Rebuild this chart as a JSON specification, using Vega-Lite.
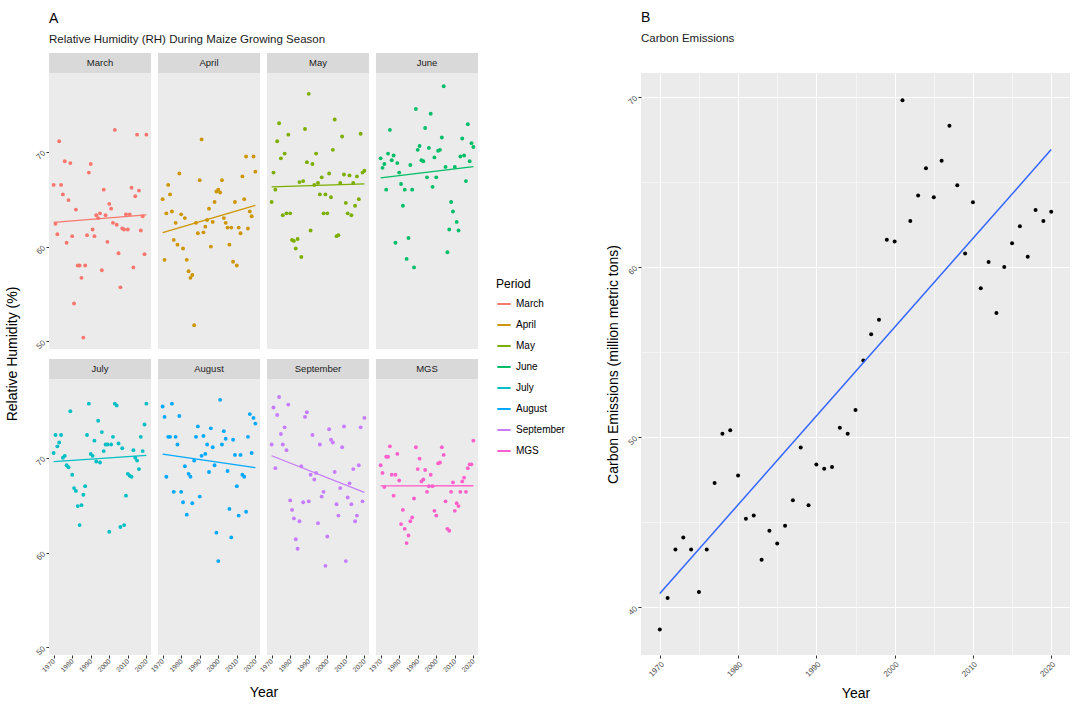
{
"$schema": "https://vega.github.io/schema/vega-lite/v6.json",
"background": "white",
"padding": {"left": 5, "top": 10, "right": 5, "bottom": 3},
"config": {
  "font": "Liberation Sans",
  "view": {"fill": "#EBEBEB", "stroke": null},
  "axis": {"domain": false, "gridColor": "#FFFFFF", "tickColor": "#333333", "tickSize": 3, "labelColor": "#4D4D4D", "labelFontSize": 8, "titleFontWeight": "normal", "titleFontSize": 14, "titleColor": "#000000", "labelOverlap": false},
  "title": {"fontSize": 14, "fontWeight": "normal", "anchor": "start", "color": "#000000", "subtitleFontSize": 11.5, "subtitleColor": "#1A1A1A", "subtitlePadding": 8, "frame": "group"},
  "legend": {"titleFontWeight": "normal", "titleFontSize": 12, "labelFontSize": 10, "titleColor": "#000000", "labelColor": "#000000"},
  "header": {"titleFontWeight": "normal", "titleFontSize": 14, "titleColor": "#000000"}
},
"datasets": {
"rh": [
{"Period":"March","Year":1970,"RH":66.5},{"Period":"March","Year":1971,"RH":62.4},{"Period":"March","Year":1972,"RH":61.3},{"Period":"March","Year":1973,"RH":71.1},{"Period":"March","Year":1974,"RH":66.5},{"Period":"March","Year":1975,"RH":65.5},{"Period":"March","Year":1976,"RH":69.0},{"Period":"March","Year":1977,"RH":60.4},{"Period":"March","Year":1978,"RH":64.9},{"Period":"March","Year":1979,"RH":68.8},{"Period":"March","Year":1980,"RH":61.1},{"Period":"March","Year":1981,"RH":54.0},{"Period":"March","Year":1982,"RH":63.9},{"Period":"March","Year":1983,"RH":58.0},{"Period":"March","Year":1984,"RH":58.0},{"Period":"March","Year":1985,"RH":56.7},{"Period":"March","Year":1986,"RH":50.4},{"Period":"March","Year":1987,"RH":58.0},{"Period":"March","Year":1988,"RH":61.2},{"Period":"March","Year":1989,"RH":67.8},{"Period":"March","Year":1990,"RH":68.7},{"Period":"March","Year":1991,"RH":61.8},{"Period":"March","Year":1992,"RH":61.1},{"Period":"March","Year":1993,"RH":63.3},{"Period":"March","Year":1994,"RH":63.0},{"Period":"March","Year":1995,"RH":63.5},{"Period":"March","Year":1996,"RH":57.5},{"Period":"March","Year":1997,"RH":66.0},{"Period":"March","Year":1998,"RH":63.3},{"Period":"March","Year":1999,"RH":60.5},{"Period":"March","Year":2000,"RH":64.5},{"Period":"March","Year":2001,"RH":64.0},{"Period":"March","Year":2002,"RH":62.5},{"Period":"March","Year":2003,"RH":72.3},{"Period":"March","Year":2004,"RH":62.3},{"Period":"March","Year":2005,"RH":59.3},{"Period":"March","Year":2006,"RH":55.7},{"Period":"March","Year":2007,"RH":61.9},{"Period":"March","Year":2008,"RH":61.8},{"Period":"March","Year":2009,"RH":63.4},{"Period":"March","Year":2010,"RH":61.8},{"Period":"March","Year":2011,"RH":63.4},{"Period":"March","Year":2012,"RH":66.2},{"Period":"March","Year":2013,"RH":57.8},{"Period":"March","Year":2014,"RH":65.3},{"Period":"March","Year":2015,"RH":71.8},{"Period":"March","Year":2016,"RH":65.9},{"Period":"March","Year":2017,"RH":61.7},{"Period":"March","Year":2018,"RH":63.2},{"Period":"March","Year":2019,"RH":59.2},{"Period":"March","Year":2020,"RH":71.8},
{"Period":"April","Year":1970,"RH":65.0},{"Period":"April","Year":1971,"RH":58.6},{"Period":"April","Year":1972,"RH":63.5},{"Period":"April","Year":1973,"RH":66.5},{"Period":"April","Year":1974,"RH":65.5},{"Period":"April","Year":1975,"RH":63.7},{"Period":"April","Year":1976,"RH":60.7},{"Period":"April","Year":1977,"RH":62.5},{"Period":"April","Year":1978,"RH":60.2},{"Period":"April","Year":1979,"RH":67.7},{"Period":"April","Year":1980,"RH":63.4},{"Period":"April","Year":1981,"RH":59.8},{"Period":"April","Year":1982,"RH":63.0},{"Period":"April","Year":1983,"RH":58.6},{"Period":"April","Year":1984,"RH":57.4},{"Period":"April","Year":1985,"RH":56.7},{"Period":"April","Year":1986,"RH":57.0},{"Period":"April","Year":1987,"RH":51.7},{"Period":"April","Year":1988,"RH":62.5},{"Period":"April","Year":1989,"RH":61.4},{"Period":"April","Year":1990,"RH":67.0},{"Period":"April","Year":1991,"RH":71.3},{"Period":"April","Year":1992,"RH":61.5},{"Period":"April","Year":1993,"RH":62.1},{"Period":"April","Year":1994,"RH":62.8},{"Period":"April","Year":1995,"RH":64.0},{"Period":"April","Year":1996,"RH":60.0},{"Period":"April","Year":1997,"RH":62.6},{"Period":"April","Year":1998,"RH":64.7},{"Period":"April","Year":1999,"RH":65.8},{"Period":"April","Year":2000,"RH":66.0},{"Period":"April","Year":2001,"RH":65.7},{"Period":"April","Year":2002,"RH":67.0},{"Period":"April","Year":2003,"RH":63.0},{"Period":"April","Year":2004,"RH":62.5},{"Period":"April","Year":2005,"RH":62.0},{"Period":"April","Year":2006,"RH":60.2},{"Period":"April","Year":2007,"RH":62.0},{"Period":"April","Year":2008,"RH":58.4},{"Period":"April","Year":2009,"RH":64.7},{"Period":"April","Year":2010,"RH":58.0},{"Period":"April","Year":2011,"RH":62.0},{"Period":"April","Year":2012,"RH":61.4},{"Period":"April","Year":2013,"RH":67.4},{"Period":"April","Year":2014,"RH":65.0},{"Period":"April","Year":2015,"RH":69.5},{"Period":"April","Year":2016,"RH":61.9},{"Period":"April","Year":2017,"RH":63.7},{"Period":"April","Year":2018,"RH":63.2},{"Period":"April","Year":2019,"RH":69.5},{"Period":"April","Year":2020,"RH":67.9},
{"Period":"May","Year":1970,"RH":64.7},{"Period":"May","Year":1971,"RH":67.8},{"Period":"May","Year":1972,"RH":66.0},{"Period":"May","Year":1973,"RH":71.1},{"Period":"May","Year":1974,"RH":73.0},{"Period":"May","Year":1975,"RH":69.3},{"Period":"May","Year":1976,"RH":63.3},{"Period":"May","Year":1977,"RH":69.8},{"Period":"May","Year":1978,"RH":63.5},{"Period":"May","Year":1979,"RH":71.8},{"Period":"May","Year":1980,"RH":63.5},{"Period":"May","Year":1981,"RH":60.7},{"Period":"May","Year":1982,"RH":60.6},{"Period":"May","Year":1983,"RH":59.8},{"Period":"May","Year":1984,"RH":60.8},{"Period":"May","Year":1985,"RH":66.8},{"Period":"May","Year":1986,"RH":58.9},{"Period":"May","Year":1987,"RH":66.9},{"Period":"May","Year":1988,"RH":72.4},{"Period":"May","Year":1989,"RH":68.9},{"Period":"May","Year":1990,"RH":76.1},{"Period":"May","Year":1991,"RH":61.7},{"Period":"May","Year":1992,"RH":68.7},{"Period":"May","Year":1993,"RH":66.5},{"Period":"May","Year":1994,"RH":69.8},{"Period":"May","Year":1995,"RH":66.7},{"Period":"May","Year":1996,"RH":65.5},{"Period":"May","Year":1997,"RH":67.3},{"Period":"May","Year":1998,"RH":63.5},{"Period":"May","Year":1999,"RH":65.5},{"Period":"May","Year":2000,"RH":63.5},{"Period":"May","Year":2001,"RH":67.7},{"Period":"May","Year":2002,"RH":65.2},{"Period":"May","Year":2003,"RH":70.2},{"Period":"May","Year":2004,"RH":73.4},{"Period":"May","Year":2005,"RH":61.1},{"Period":"May","Year":2006,"RH":61.2},{"Period":"May","Year":2007,"RH":66.7},{"Period":"May","Year":2008,"RH":71.6},{"Period":"May","Year":2009,"RH":67.6},{"Period":"May","Year":2010,"RH":64.6},{"Period":"May","Year":2011,"RH":63.5},{"Period":"May","Year":2012,"RH":67.5},{"Period":"May","Year":2013,"RH":63.3},{"Period":"May","Year":2014,"RH":66.7},{"Period":"May","Year":2015,"RH":64.3},{"Period":"May","Year":2016,"RH":67.4},{"Period":"May","Year":2017,"RH":65.0},{"Period":"May","Year":2018,"RH":71.9},{"Period":"May","Year":2019,"RH":67.8},{"Period":"May","Year":2020,"RH":68.0},
{"Period":"June","Year":1970,"RH":69.3},{"Period":"June","Year":1971,"RH":68.3},{"Period":"June","Year":1972,"RH":68.7},{"Period":"June","Year":1973,"RH":66.0},{"Period":"June","Year":1974,"RH":69.8},{"Period":"June","Year":1975,"RH":72.3},{"Period":"June","Year":1976,"RH":69.1},{"Period":"June","Year":1977,"RH":69.6},{"Period":"June","Year":1978,"RH":60.4},{"Period":"June","Year":1979,"RH":68.8},{"Period":"June","Year":1980,"RH":67.8},{"Period":"June","Year":1981,"RH":66.6},{"Period":"June","Year":1982,"RH":64.3},{"Period":"June","Year":1983,"RH":66.0},{"Period":"June","Year":1984,"RH":58.7},{"Period":"June","Year":1985,"RH":60.9},{"Period":"June","Year":1986,"RH":68.6},{"Period":"June","Year":1987,"RH":66.0},{"Period":"June","Year":1988,"RH":57.8},{"Period":"June","Year":1989,"RH":74.5},{"Period":"June","Year":1990,"RH":70.2},{"Period":"June","Year":1991,"RH":70.6},{"Period":"June","Year":1992,"RH":69.1},{"Period":"June","Year":1993,"RH":69.0},{"Period":"June","Year":1994,"RH":72.5},{"Period":"June","Year":1995,"RH":67.3},{"Period":"June","Year":1996,"RH":70.4},{"Period":"June","Year":1997,"RH":74.0},{"Period":"June","Year":1998,"RH":66.3},{"Period":"June","Year":1999,"RH":69.4},{"Period":"June","Year":2000,"RH":67.3},{"Period":"June","Year":2001,"RH":70.1},{"Period":"June","Year":2002,"RH":70.2},{"Period":"June","Year":2003,"RH":71.5},{"Period":"June","Year":2004,"RH":76.9},{"Period":"June","Year":2005,"RH":68.4},{"Period":"June","Year":2006,"RH":59.4},{"Period":"June","Year":2007,"RH":61.8},{"Period":"June","Year":2008,"RH":64.7},{"Period":"June","Year":2009,"RH":63.7},{"Period":"June","Year":2010,"RH":68.4},{"Period":"June","Year":2011,"RH":62.6},{"Period":"June","Year":2012,"RH":61.7},{"Period":"June","Year":2013,"RH":69.5},{"Period":"June","Year":2014,"RH":71.4},{"Period":"June","Year":2015,"RH":69.6},{"Period":"June","Year":2016,"RH":66.9},{"Period":"June","Year":2017,"RH":72.9},{"Period":"June","Year":2018,"RH":69.0},{"Period":"June","Year":2019,"RH":70.9},{"Period":"June","Year":2020,"RH":70.5},
{"Period":"July","Year":1970,"RH":70.5},{"Period":"July","Year":1971,"RH":72.4},{"Period":"July","Year":1972,"RH":71.2},{"Period":"July","Year":1973,"RH":71.6},{"Period":"July","Year":1974,"RH":72.4},{"Period":"July","Year":1975,"RH":70.0},{"Period":"July","Year":1976,"RH":70.2},{"Period":"July","Year":1977,"RH":69.2},{"Period":"July","Year":1978,"RH":69.0},{"Period":"July","Year":1979,"RH":74.9},{"Period":"July","Year":1980,"RH":68.2},{"Period":"July","Year":1981,"RH":66.8},{"Period":"July","Year":1982,"RH":66.5},{"Period":"July","Year":1983,"RH":64.9},{"Period":"July","Year":1984,"RH":62.9},{"Period":"July","Year":1985,"RH":65.0},{"Period":"July","Year":1986,"RH":66.1},{"Period":"July","Year":1987,"RH":67.0},{"Period":"July","Year":1988,"RH":72.4},{"Period":"July","Year":1989,"RH":75.7},{"Period":"July","Year":1990,"RH":70.4},{"Period":"July","Year":1991,"RH":70.2},{"Period":"July","Year":1992,"RH":71.8},{"Period":"July","Year":1993,"RH":69.6},{"Period":"July","Year":1994,"RH":73.9},{"Period":"July","Year":1995,"RH":69.5},{"Period":"July","Year":1996,"RH":72.7},{"Period":"July","Year":1997,"RH":70.7},{"Period":"July","Year":1998,"RH":71.4},{"Period":"July","Year":1999,"RH":71.4},{"Period":"July","Year":2000,"RH":62.2},{"Period":"July","Year":2001,"RH":71.4},{"Period":"July","Year":2002,"RH":72.2},{"Period":"July","Year":2003,"RH":75.7},{"Period":"July","Year":2004,"RH":75.5},{"Period":"July","Year":2005,"RH":71.5},{"Period":"July","Year":2006,"RH":62.7},{"Period":"July","Year":2007,"RH":71.0},{"Period":"July","Year":2008,"RH":62.9},{"Period":"July","Year":2009,"RH":66.0},{"Period":"July","Year":2010,"RH":68.3},{"Period":"July","Year":2011,"RH":68.1},{"Period":"July","Year":2012,"RH":68.0},{"Period":"July","Year":2013,"RH":70.8},{"Period":"July","Year":2014,"RH":70.0},{"Period":"July","Year":2015,"RH":69.7},{"Period":"July","Year":2016,"RH":68.8},{"Period":"July","Year":2017,"RH":72.2},{"Period":"July","Year":2018,"RH":70.7},{"Period":"July","Year":2019,"RH":73.5},{"Period":"July","Year":2020,"RH":75.7},
{"Period":"August","Year":1970,"RH":75.4},{"Period":"August","Year":1971,"RH":74.3},{"Period":"August","Year":1972,"RH":68.0},{"Period":"August","Year":1973,"RH":72.2},{"Period":"August","Year":1974,"RH":72.2},{"Period":"August","Year":1975,"RH":75.7},{"Period":"August","Year":1976,"RH":66.4},{"Period":"August","Year":1977,"RH":72.2},{"Period":"August","Year":1978,"RH":71.4},{"Period":"August","Year":1979,"RH":74.4},{"Period":"August","Year":1980,"RH":66.4},{"Period":"August","Year":1981,"RH":65.3},{"Period":"August","Year":1982,"RH":69.1},{"Period":"August","Year":1983,"RH":64.0},{"Period":"August","Year":1984,"RH":68.3},{"Period":"August","Year":1985,"RH":68.0},{"Period":"August","Year":1986,"RH":65.2},{"Period":"August","Year":1987,"RH":69.7},{"Period":"August","Year":1988,"RH":72.2},{"Period":"August","Year":1989,"RH":73.3},{"Period":"August","Year":1990,"RH":65.9},{"Period":"August","Year":1991,"RH":70.2},{"Period":"August","Year":1992,"RH":72.3},{"Period":"August","Year":1993,"RH":70.4},{"Period":"August","Year":1994,"RH":71.4},{"Period":"August","Year":1995,"RH":68.5},{"Period":"August","Year":1996,"RH":73.1},{"Period":"August","Year":1997,"RH":71.1},{"Period":"August","Year":1998,"RH":69.2},{"Period":"August","Year":1999,"RH":62.1},{"Period":"August","Year":2000,"RH":59.1},{"Period":"August","Year":2001,"RH":76.1},{"Period":"August","Year":2002,"RH":71.4},{"Period":"August","Year":2003,"RH":72.8},{"Period":"August","Year":2004,"RH":72.0},{"Period":"August","Year":2005,"RH":68.6},{"Period":"August","Year":2006,"RH":64.6},{"Period":"August","Year":2007,"RH":61.6},{"Period":"August","Year":2008,"RH":71.9},{"Period":"August","Year":2009,"RH":70.3},{"Period":"August","Year":2010,"RH":67.0},{"Period":"August","Year":2011,"RH":63.9},{"Period":"August","Year":2012,"RH":70.3},{"Period":"August","Year":2013,"RH":68.2},{"Period":"August","Year":2014,"RH":68.0},{"Period":"August","Year":2015,"RH":64.3},{"Period":"August","Year":2016,"RH":72.2},{"Period":"August","Year":2017,"RH":74.6},{"Period":"August","Year":2018,"RH":70.5},{"Period":"August","Year":2019,"RH":74.2},{"Period":"August","Year":2020,"RH":73.6},
{"Period":"September","Year":1970,"RH":71.4},{"Period":"September","Year":1971,"RH":75.3},{"Period":"September","Year":1972,"RH":68.9},{"Period":"September","Year":1973,"RH":74.5},{"Period":"September","Year":1974,"RH":76.4},{"Period":"September","Year":1975,"RH":72.5},{"Period":"September","Year":1976,"RH":71.4},{"Period":"September","Year":1977,"RH":73.2},{"Period":"September","Year":1978,"RH":70.8},{"Period":"September","Year":1979,"RH":75.6},{"Period":"September","Year":1980,"RH":65.5},{"Period":"September","Year":1981,"RH":64.5},{"Period":"September","Year":1982,"RH":63.6},{"Period":"September","Year":1983,"RH":61.4},{"Period":"September","Year":1984,"RH":60.4},{"Period":"September","Year":1985,"RH":63.3},{"Period":"September","Year":1986,"RH":69.1},{"Period":"September","Year":1987,"RH":65.3},{"Period":"September","Year":1988,"RH":74.3},{"Period":"September","Year":1989,"RH":74.8},{"Period":"September","Year":1990,"RH":65.4},{"Period":"September","Year":1991,"RH":68.2},{"Period":"September","Year":1992,"RH":72.4},{"Period":"September","Year":1993,"RH":67.7},{"Period":"September","Year":1994,"RH":68.4},{"Period":"September","Year":1995,"RH":63.1},{"Period":"September","Year":1996,"RH":71.4},{"Period":"September","Year":1997,"RH":65.9},{"Period":"September","Year":1998,"RH":66.4},{"Period":"September","Year":1999,"RH":58.6},{"Period":"September","Year":2000,"RH":61.7},{"Period":"September","Year":2001,"RH":73.0},{"Period":"September","Year":2002,"RH":71.9},{"Period":"September","Year":2003,"RH":71.6},{"Period":"September","Year":2004,"RH":68.5},{"Period":"September","Year":2005,"RH":65.1},{"Period":"September","Year":2006,"RH":63.9},{"Period":"September","Year":2007,"RH":66.8},{"Period":"September","Year":2008,"RH":71.1},{"Period":"September","Year":2009,"RH":73.3},{"Period":"September","Year":2010,"RH":59.1},{"Period":"September","Year":2011,"RH":65.8},{"Period":"September","Year":2012,"RH":67.3},{"Period":"September","Year":2013,"RH":65.1},{"Period":"September","Year":2014,"RH":68.8},{"Period":"September","Year":2015,"RH":63.3},{"Period":"September","Year":2016,"RH":63.9},{"Period":"September","Year":2017,"RH":69.2},{"Period":"September","Year":2018,"RH":73.2},{"Period":"September","Year":2019,"RH":65.4},{"Period":"September","Year":2020,"RH":74.2},
{"Period":"MGS","Year":1970,"RH":69.2},{"Period":"MGS","Year":1971,"RH":68.4},{"Period":"MGS","Year":1972,"RH":66.9},{"Period":"MGS","Year":1973,"RH":70.1},{"Period":"MGS","Year":1974,"RH":70.1},{"Period":"MGS","Year":1975,"RH":71.2},{"Period":"MGS","Year":1976,"RH":68.2},{"Period":"MGS","Year":1977,"RH":66.0},{"Period":"MGS","Year":1978,"RH":68.2},{"Period":"MGS","Year":1979,"RH":70.4},{"Period":"MGS","Year":1980,"RH":67.6},{"Period":"MGS","Year":1981,"RH":63.0},{"Period":"MGS","Year":1982,"RH":64.5},{"Period":"MGS","Year":1983,"RH":62.5},{"Period":"MGS","Year":1984,"RH":61.0},{"Period":"MGS","Year":1985,"RH":61.8},{"Period":"MGS","Year":1986,"RH":63.3},{"Period":"MGS","Year":1987,"RH":63.7},{"Period":"MGS","Year":1988,"RH":65.7},{"Period":"MGS","Year":1989,"RH":71.1},{"Period":"MGS","Year":1990,"RH":68.8},{"Period":"MGS","Year":1991,"RH":69.9},{"Period":"MGS","Year":1992,"RH":67.5},{"Period":"MGS","Year":1993,"RH":67.7},{"Period":"MGS","Year":1994,"RH":68.7},{"Period":"MGS","Year":1995,"RH":66.4},{"Period":"MGS","Year":1996,"RH":67.0},{"Period":"MGS","Year":1997,"RH":68.2},{"Period":"MGS","Year":1998,"RH":67.0},{"Period":"MGS","Year":1999,"RH":64.4},{"Period":"MGS","Year":2000,"RH":63.9},{"Period":"MGS","Year":2001,"RH":69.4},{"Period":"MGS","Year":2002,"RH":69.5},{"Period":"MGS","Year":2003,"RH":71.1},{"Period":"MGS","Year":2004,"RH":70.3},{"Period":"MGS","Year":2005,"RH":65.4},{"Period":"MGS","Year":2006,"RH":62.5},{"Period":"MGS","Year":2007,"RH":62.3},{"Period":"MGS","Year":2008,"RH":66.4},{"Period":"MGS","Year":2009,"RH":67.4},{"Period":"MGS","Year":2010,"RH":64.4},{"Period":"MGS","Year":2011,"RH":65.2},{"Period":"MGS","Year":2012,"RH":64.9},{"Period":"MGS","Year":2013,"RH":66.4},{"Period":"MGS","Year":2014,"RH":67.5},{"Period":"MGS","Year":2015,"RH":67.9},{"Period":"MGS","Year":2016,"RH":66.4},{"Period":"MGS","Year":2017,"RH":68.9},{"Period":"MGS","Year":2018,"RH":69.3},{"Period":"MGS","Year":2019,"RH":69.3},{"Period":"MGS","Year":2020,"RH":71.8}
],
"co2": [
{"Year":1970,"Emissions":38.7},{"Year":1971,"Emissions":40.55},{"Year":1972,"Emissions":43.4},{"Year":1973,"Emissions":44.1},{"Year":1974,"Emissions":43.4},{"Year":1975,"Emissions":40.9},{"Year":1976,"Emissions":43.4},{"Year":1977,"Emissions":47.3},{"Year":1978,"Emissions":50.2},{"Year":1979,"Emissions":50.4},{"Year":1980,"Emissions":47.75},{"Year":1981,"Emissions":45.2},{"Year":1982,"Emissions":45.4},{"Year":1983,"Emissions":42.8},{"Year":1984,"Emissions":44.5},{"Year":1985,"Emissions":43.75},{"Year":1986,"Emissions":44.8},{"Year":1987,"Emissions":46.3},{"Year":1988,"Emissions":49.4},{"Year":1989,"Emissions":46.0},{"Year":1990,"Emissions":48.4},{"Year":1991,"Emissions":48.15},{"Year":1992,"Emissions":48.25},{"Year":1993,"Emissions":50.55},{"Year":1994,"Emissions":50.2},{"Year":1995,"Emissions":51.6},{"Year":1996,"Emissions":54.5},{"Year":1997,"Emissions":56.05},{"Year":1998,"Emissions":56.9},{"Year":1999,"Emissions":61.6},{"Year":2000,"Emissions":61.5},{"Year":2001,"Emissions":69.8},{"Year":2002,"Emissions":62.7},{"Year":2003,"Emissions":64.2},{"Year":2004,"Emissions":65.8},{"Year":2005,"Emissions":64.1},{"Year":2006,"Emissions":66.25},{"Year":2007,"Emissions":68.3},{"Year":2008,"Emissions":64.8},{"Year":2009,"Emissions":60.8},{"Year":2010,"Emissions":63.8},{"Year":2011,"Emissions":58.75},{"Year":2012,"Emissions":60.3},{"Year":2013,"Emissions":57.3},{"Year":2014,"Emissions":60.0},{"Year":2015,"Emissions":61.4},{"Year":2016,"Emissions":62.4},{"Year":2017,"Emissions":60.6},{"Year":2018,"Emissions":63.35},{"Year":2019,"Emissions":62.7},{"Year":2020,"Emissions":63.25}
]
},
"hconcat": [
{
  "data": {"name": "rh"},
  "title": {"text": "A", "subtitle": "Relative Humidity (RH) During Maize Growing Season", "anchor": "start", "offset": 8},
  "transform": [
    {"calculate": "indexof(['March','April','May','June','July','August','September','MGS'], datum.Period)", "as": "PeriodIndex"},
    {"calculate": "floor(datum.PeriodIndex / 4)", "as": "PanelRow"},
    {"calculate": "datum.PeriodIndex % 4", "as": "PanelCol"}
  ],
  "facet": {
    "row": {"field": "PanelRow", "type": "ordinal", "header": {"labels": false, "title": "Relative Humidity (%)", "titleOrient": "left", "titlePadding": 4}},
    "column": {"field": "PanelCol", "type": "ordinal", "header": {"labels": false, "title": "Year", "titleOrient": "bottom", "titlePadding": 2}}
  },
  "spacing": {"row": 10, "column": 7},
  "spec": {
    "width": 102,
    "height": 276,
    "layer": [
      {
        "transform": [{"aggregate": [{"op": "count", "as": "n"}], "groupby": ["Period"]}],
        "mark": {"type": "rect", "color": "#D9D9D9"},
        "encoding": {"x": {"datum": 1967.5}, "x2": {"datum": 2022.5}, "y": {"datum": 78.3}, "y2": {"datum": 80.4}}
      },
      {
        "transform": [{"aggregate": [{"op": "count", "as": "n"}], "groupby": ["Period"]}],
        "mark": {"type": "text", "fontSize": 9.5, "color": "#1A1A1A", "baseline": "middle"},
        "encoding": {"x": {"datum": 1995}, "y": {"datum": 79.35}, "text": {"field": "Period", "type": "nominal"}}
      },
      {
        "mark": {"type": "point", "filled": true, "size": 15, "opacity": 1},
        "encoding": {
          "x": {"field": "Year", "type": "quantitative", "title": null,
                "scale": {"domain": [1967.5, 2022.5], "nice": false, "zero": false},
                "axis": {"orient": "bottom", "values": [1970,1980,1990,2000,2010,2020], "tickCount": 6, "format": "d", "labelOverlap": false,
                         "labelAngle": -45, "labelAlign": "right", "labelBaseline": "middle", "labelPadding": 2, "labelFontSize": 6.8,
                         "gridWidth": 0.9}},
          "y": {"field": "RH", "type": "quantitative", "title": null,
                "scale": {"domain": [49.2, 78.3], "nice": false, "zero": false},
                "axis": {"values": [50,55,60,65,70,75], "labelExpr": "datum.value % 10 === 0 ? datum.label : ''",
                         "labelAngle": -45, "labelAlign": "right", "labelBaseline": "middle",
                         "tickOpacity": {"condition": {"test": "datum.value % 10 === 0", "value": 1}, "value": 0},
                         "gridWidth": {"condition": {"test": "datum.value % 10 === 0", "value": 0.9}, "value": 0.45}}},
          "color": {"field": "Period", "type": "nominal", "title": "Period",
                    "scale": {"domain": ["March","April","May","June","July","August","September","MGS"],
                              "range": ["#F8766D","#CD9600","#7CAE00","#00BE67","#00BFC4","#00A9FF","#C77CFF","#FF61CC"]},
                    "legend": {"symbolType": "stroke", "symbolStrokeWidth": 2, "symbolSize": 180, "rowPadding": 8, "orient": "none", "legendX": 447, "legendY": 206}}
        }
      },
      {
        "transform": [{"regression": "RH", "on": "Year", "groupby": ["Period"]}],
        "mark": {"type": "line", "strokeWidth": 1.3},
        "encoding": {
          "x": {"field": "Year", "type": "quantitative"},
          "y": {"field": "RH", "type": "quantitative"},
          "color": {"field": "Period", "type": "nominal"}
        }
      }
    ]
  }
},
{
  "data": {"name": "co2"},
  "title": {"text": "B", "subtitle": "Carbon Emissions", "anchor": "start", "offset": 29},
  "width": 429,
  "height": 582,
  "layer": [
    {
      "mark": {"type": "point", "filled": true, "size": 16, "color": "#000000", "opacity": 1},
      "encoding": {
        "x": {"field": "Year", "type": "quantitative", "title": "Year",
              "scale": {"domain": [1967.6, 2022.4], "nice": false, "zero": false},
              "axis": {"values": [1970,1975,1980,1985,1990,1995,2000,2005,2010,2015,2020], "format": "d",
                       "labelExpr": "datum.value % 10 === 0 ? datum.label : ''",
                       "labelAngle": -45, "labelAlign": "right", "labelBaseline": "top",
                       "tickOpacity": {"condition": {"test": "datum.value % 10 === 0", "value": 1}, "value": 0},
                       "gridWidth": {"condition": {"test": "datum.value % 10 === 0", "value": 1}, "value": 0.5},
                       "titlePadding": 8}},
        "y": {"field": "Emissions", "type": "quantitative", "title": "Carbon Emissions (million metric tons)",
              "scale": {"domain": [37.2, 71.4], "nice": false, "zero": false},
              "axis": {"values": [40,45,50,55,60,65,70], "labelExpr": "datum.value % 10 === 0 ? datum.label : ''",
                       "labelAngle": -45, "labelAlign": "right", "labelBaseline": "middle",
                       "tickOpacity": {"condition": {"test": "datum.value % 10 === 0", "value": 1}, "value": 0},
                       "gridWidth": {"condition": {"test": "datum.value % 10 === 0", "value": 1}, "value": 0.5},
                       "titlePadding": 6}}
      }
    },
    {
      "transform": [{"regression": "Emissions", "on": "Year"}],
      "mark": {"type": "line", "color": "#3366FF", "strokeWidth": 1.5},
      "encoding": {
        "x": {"field": "Year", "type": "quantitative"},
        "y": {"field": "Emissions", "type": "quantitative"}
      }
    }
  ]
}
],
"spacing": 128
}
